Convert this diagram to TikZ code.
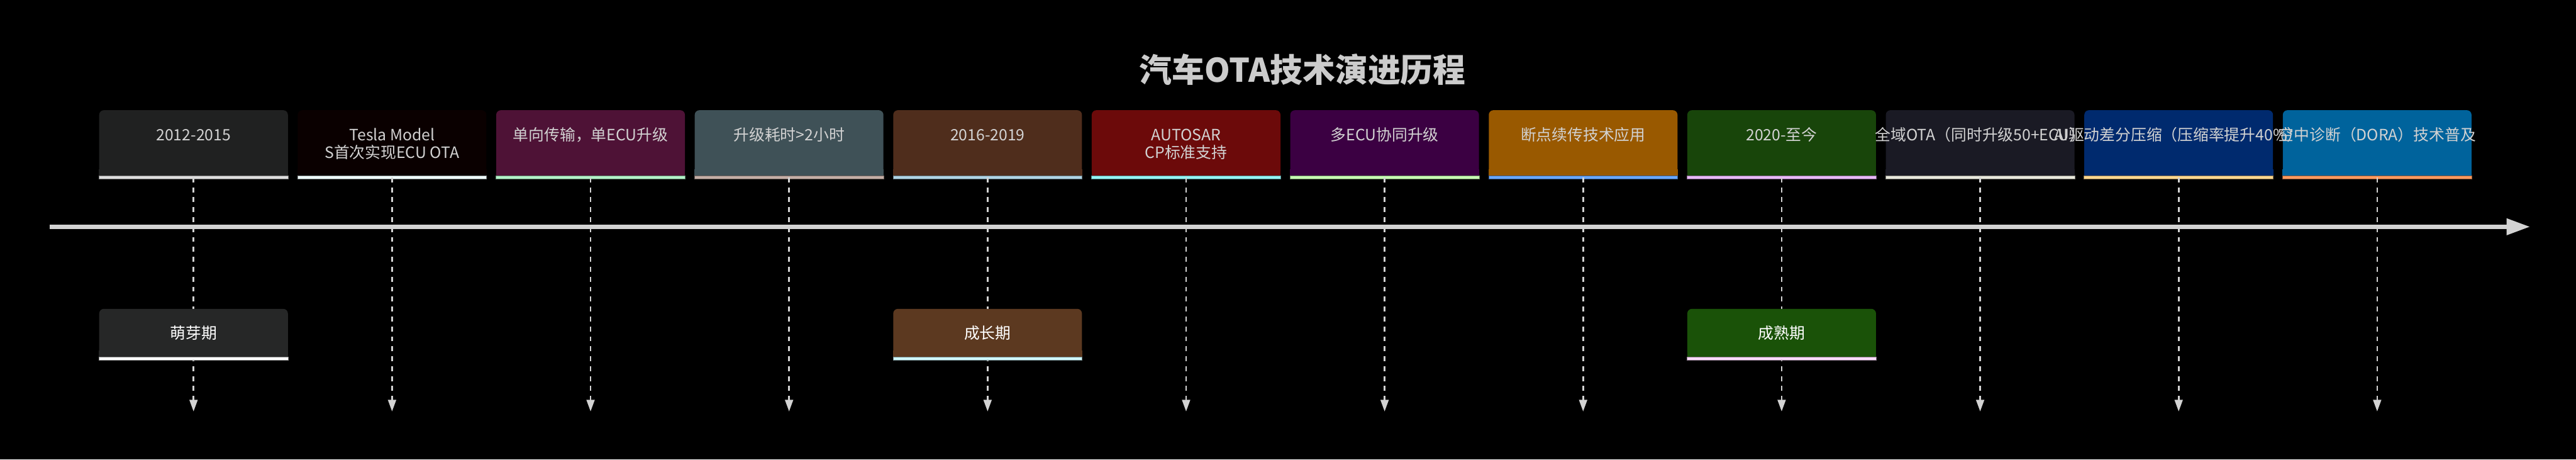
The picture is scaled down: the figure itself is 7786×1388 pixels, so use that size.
\documentclass[tikz,border=0pt]{standalone}
\usepackage{fontspec}
\setmainfont{Noto Sans CJK SC}
\usetikzlibrary{arrows.meta}
\definecolor{f1}{HTML}{202121}\definecolor{r1}{HTML}{DDDDDD}
\definecolor{f2}{HTML}{0A0000}\definecolor{r2}{HTML}{F0FFFF}
\definecolor{f3}{HTML}{4E1236}\definecolor{r3}{HTML}{B3F2C8}
\definecolor{f4}{HTML}{3F5157}\definecolor{r4}{HTML}{C4AEA6}
\definecolor{f5}{HTML}{4F2D1C}\definecolor{r5}{HTML}{B0D4E4}
\definecolor{f6}{HTML}{6C0A0A}\definecolor{r6}{HTML}{94F5F5}
\definecolor{f7}{HTML}{3B0042}\definecolor{r7}{HTML}{C8FFB4}
\definecolor{f8}{HTML}{995900}\definecolor{r8}{HTML}{6AA8FF}
\definecolor{f9}{HTML}{18450A}\definecolor{r9}{HTML}{E8B8F8}
\definecolor{f10}{HTML}{1A1A24}\definecolor{r10}{HTML}{E8E8DC}
\definecolor{f11}{HTML}{002A6E}\definecolor{r11}{HTML}{FFD890}
\definecolor{f12}{HTML}{00639C}\definecolor{r12}{HTML}{FF9A60}
\definecolor{pf1}{HTML}{262727}\definecolor{pr1}{HTML}{FFFFFF}
\definecolor{pf2}{HTML}{5C3920}\definecolor{pr2}{HTML}{D0F8FC}
\definecolor{pf3}{HTML}{1A5208}\definecolor{pr3}{HTML}{FCDCFC}
\definecolor{txtgray}{HTML}{D2D2D2}
\definecolor{titlegray}{HTML}{CCCCCC}
\definecolor{axisgray}{HTML}{D3D3D3}
\tikzset{
  topbg/.style={rectangle, draw=none, inner sep=0pt, minimum width=5.7cm, minimum height=1.97cm, rounded corners=0.14cm},
  phbg/.style={rectangle, draw=none, inner sep=0pt, minimum width=5.7cm, minimum height=1.45cm, rounded corners=0.14cm, text=white, font=\fontsize{13.4pt}{15.65pt}\selectfont},
  toptext/.style={anchor=base, inner sep=0pt, align=center, text=txtgray, font=\fontsize{13.4pt}{15.65pt}\selectfont},
  titletext/.style={inner sep=0pt, text=titlegray, font=\fontsize{28pt}{32pt}\selectfont\bfseries},
  dashline/.style={draw=axisgray, line width=0.05cm, dash pattern=on 0.15cm off 0.15cm, -{Triangle[length=0.35cm,width=0.24cm]}},
  axisline/.style={draw=axisgray, line width=0.12cm, -{Triangle[length=0.71cm,width=0.48cm,fill=axisgray]}},
}
\newcommand\tlbox[4]{%
  \node[topbg, fill=#3] (b#1) at (#2,431.5) {};
  \fill[#3] (b#1.south west) rectangle ([yshift=0.2cm]b#1.south east);
  \filldraw[fill=#4, draw=#4!55!black, line width=0.4pt] (b#1.south west) rectangle ([yshift=-0.1cm]b#1.south east);
}
\newcommand\phbox[5]{%
  \node[phbg, fill=#3] (p#1) at (#2,1005.5) {#5};
  \fill[#3] (p#1.south west) rectangle ([yshift=0.2cm]p#1.south east);
  \filldraw[fill=#4, draw=#4!55!black, line width=0.4pt] (p#1.south west) rectangle ([yshift=-0.1cm]p#1.south east);
}
\begin{document}
\begin{tikzpicture}[x=0.01cm,y=-0.01cm]
\useasboundingbox (0,0) rectangle (7786,1388);
\fill[black] (0,0) rectangle (7786,1388);
\node[titletext] (title) at (3937,210) {汽车OTA技术演进历程};
\tlbox{1}{585}{f1}{r1}
\tlbox{2}{1185}{f2}{r2}
\tlbox{3}{1785}{f3}{r3}
\tlbox{4}{2385}{f4}{r4}
\tlbox{5}{2985}{f5}{r5}
\tlbox{6}{3585}{f6}{r6}
\tlbox{7}{4185}{f7}{r7}
\tlbox{8}{4785}{f8}{r8}
\tlbox{9}{5385}{f9}{r9}
\tlbox{10}{5985}{f10}{r10}
\tlbox{11}{6585}{f11}{r11}
\tlbox{12}{7185}{f12}{r12}
\foreach \i/\x in {1/585,2/1185,3/1785,4/2385,5/2985,6/3585,7/4185,8/4785,9/5385,10/5985,11/6585,12/7185}{
  \coordinate (e\i) at (\x,1243);
  \draw[dashline] ([yshift=-0.05cm]b\i.south) -- (e\i);
}
\coordinate (axs) at (150,685);
\coordinate (axe) at (7647,685);
\draw[axisline] (axs) -- (axe);
\phbox{1}{585}{pf1}{pr1}{萌芽期}
\phbox{2}{2985}{pf2}{pr2}{成长期}
\phbox{3}{5385}{pf3}{pr3}{成熟期}
\node[toptext] (t1) at (585,424) {2012-2015};
\node[toptext] (t2) at (1185,479) {Tesla Model\\S首次实现ECU OTA};
\node[toptext] (t3) at (1785,424) {单向传输，单ECU升级};
\node[toptext] (t4) at (2385,424) {升级耗时>2小时};
\node[toptext] (t5) at (2985,424) {2016-2019};
\node[toptext] (t6) at (3585,479) {AUTOSAR\\CP标准支持};
\node[toptext] (t7) at (4185,424) {多ECU协同升级};
\node[toptext] (t8) at (4785,424) {断点续传技术应用};
\node[toptext] (t9) at (5385,424) {2020-至今};
\node[toptext] (t10) at (5985,424) {全域OTA（同时升级50+ECU）};
\node[toptext] (t11) at (6585,424) {AI驱动差分压缩（压缩率提升40\%）};
\node[toptext] (t12) at (7185,424) {空中诊断（DORA）技术普及};
\end{tikzpicture}
\end{document}
